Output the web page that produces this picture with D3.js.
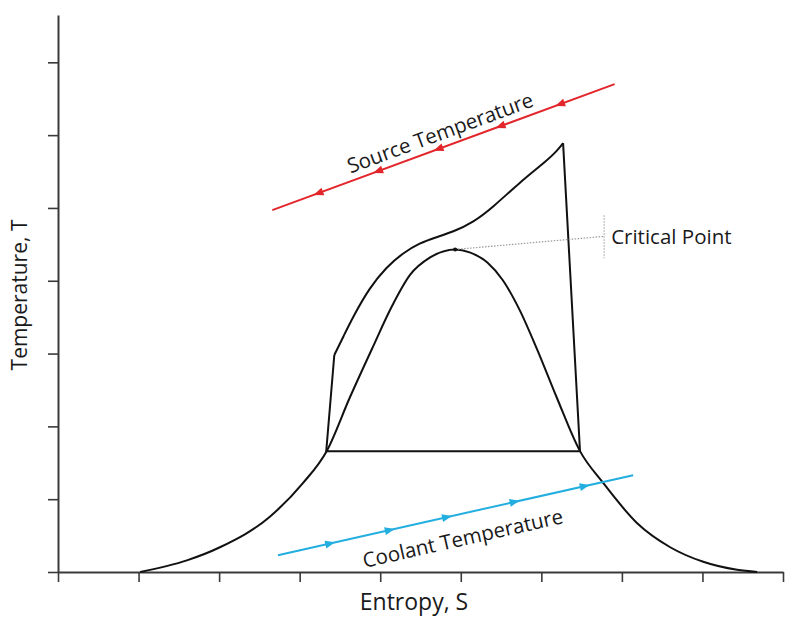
<!DOCTYPE html>
<html>
<head>
<meta charset="utf-8">
<script src="https://cdn.jsdelivr.net/npm/d3@7"></script>
<style>
  body { margin: 0; background: #fff; }
  text { font-family: "Open Sans", "Noto Sans", sans-serif; fill: #1a1a1a; }
</style>
</head>
<body>
<div id="chart"></div>
<script>
var WIDTH = 795, HEIGHT = 617;

// x ticks (entropy) and y ticks (temperature), no labels on them
var xTicks = [0, 1, 2, 3, 4, 5, 6, 7, 8, 9];
var yTicks = [0, 1, 2, 3, 4, 5, 6, 7];

// saturation dome [s, T]
var dome = [[1.02, 0], [1.60, 0.16], [2.01, 0.34], [2.63, 0.76], [3.04, 1.22], [3.34, 1.67],
  [3.62, 2.39], [3.90, 3.07], [4.15, 3.66], [4.37, 4.08], [4.62, 4.32],
  [4.93, 4.43], [5.11, 4.39], [5.33, 4.25], [5.52, 4.01], [5.73, 3.60], [5.95, 3.05],
  [6.19, 2.40], [6.48, 1.66], [6.77, 1.22], [7.19, 0.67], [7.60, 0.34], [8.01, 0.14],
  [8.43, 0.03], [8.68, 0]];

// cycle: curved upper part and straight parts
var cycleTop = [[3.43, 2.98], [3.55, 3.25], [3.66, 3.50], [3.87, 3.91], [4.08, 4.19], [4.28, 4.38],
  [4.49, 4.52], [4.70, 4.60], [4.90, 4.67], [5.15, 4.80], [5.40, 5.01], [5.73, 5.35],
  [6.07, 5.65], [6.20, 5.79], [6.27, 5.89]];
var cycleStraight = [[6.27, 5.89], [6.48, 1.66], [3.33, 1.66], [3.43, 2.98]];

var criticalPoint = [4.93, 4.43];
var criticalLabelAt = [6.78, 4.61];
var criticalTick = [[6.78, 4.90], [6.78, 4.31]];

// heat source / sink lines, arrows at these s positions
var sourceLine = [[2.66, 4.97], [6.91, 6.70]];
var sourceArrows = [3.23, 3.97, 4.72, 5.49, 6.23];
var coolantLine = [[2.73, 0.23], [7.14, 1.33]];
var coolantArrows = [3.38, 4.12, 4.83, 5.67, 6.54];

var SOURCE_COLOR = "#e3262b",
  COOLANT_COLOR = "#23aee0",
  AXIS_COLOR = "#3a3a3a";

var x = d3.scaleLinear().domain([0, 9]).range([58, 783]);
var y = d3.scaleLinear().domain([0, 7.65]).range([572, 15]);

var svg = d3.select("#chart")
  .append("svg")
  .attr("width", WIDTH)
  .attr("height", HEIGHT);

var line = d3.line()
  .x(function(d) { return x(d[0]); })
  .y(function(d) { return y(d[1]); });

// axes
svg.append("g")
  .attr("transform", "translate(0," + y(0) + ")")
  .call(d3.axisBottom(x).tickValues(xTicks).tickSize(10).tickSizeOuter(0).tickFormat(""));
svg.append("g")
  .attr("transform", "translate(" + x(0) + ",0)")
  .call(d3.axisLeft(y).tickValues(yTicks).tickSize(10).tickSizeOuter(0).tickFormat(""));

svg.selectAll(".domain").attr("stroke", AXIS_COLOR).attr("stroke-width", 2);
svg.selectAll(".tick line").attr("stroke", AXIS_COLOR).attr("stroke-width", 1.6);

svg.append("text")
  .attr("transform", "translate(27,295) rotate(-90)")
  .attr("text-anchor", "middle")
  .style("font-size", "21px")
  .text("Temperature, T");

svg.append("text")
  .attr("x", 414)
  .attr("y", 610)
  .attr("text-anchor", "middle")
  .style("font-size", "23px")
  .text("Entropy, S");

// dome and cycle
svg.append("path")
  .datum(dome)
  .attr("d", line.curve(d3.curveMonotoneX))
  .attr("fill", "none")
  .attr("stroke", "#111")
  .attr("stroke-width", 2);

svg.append("path")
  .datum(cycleTop)
  .attr("d", line.curve(d3.curveBasis))
  .attr("fill", "none")
  .attr("stroke", "#111")
  .attr("stroke-width", 2);

svg.append("path")
  .datum(cycleStraight)
  .attr("d", line.curve(d3.curveLinear))
  .attr("fill", "none")
  .attr("stroke", "#111")
  .attr("stroke-width", 2)
  .attr("stroke-linejoin", "round");

// critical point marker
svg.append("path")
  .datum([criticalPoint, criticalLabelAt])
  .attr("d", line)
  .attr("stroke", "#999")
  .attr("stroke-width", 1.2)
  .attr("stroke-dasharray", "1.5,1.5");
svg.append("path")
  .datum(criticalTick)
  .attr("d", line)
  .attr("stroke", "#aaa")
  .attr("stroke-width", 1.2)
  .attr("stroke-dasharray", "1.5,1.5");
svg.append("circle")
  .attr("cx", x(criticalPoint[0]))
  .attr("cy", y(criticalPoint[1]))
  .attr("r", 2)
  .attr("fill", "#111");
svg.append("text")
  .attr("x", x(criticalLabelAt[0]) + 7)
  .attr("y", y(criticalLabelAt[1]) + 8)
  .style("font-size", "20.5px")
  .text("Critical Point");

function drawStream(pts, arrows, color, dir, label, labelOffset) {
  var x0 = x(pts[0][0]), y0 = y(pts[0][1]);
  var x1 = x(pts[1][0]), y1 = y(pts[1][1]);
  var ang = Math.atan2(y1 - y0, x1 - x0) * 180 / Math.PI;
  var slope = (pts[1][1] - pts[0][1]) / (pts[1][0] - pts[0][0]);

  svg.append("path")
    .datum(pts)
    .attr("d", line.curve(d3.curveLinear))
    .attr("stroke", color)
    .attr("stroke-width", 2);

  svg.selectAll(null)
    .data(arrows)
    .enter()
    .append("path")
    .attr("d", dir > 0 ? "M5,0L-5,-4L-5,4Z" : "M-5,0L5,-4L5,4Z")
    .attr("fill", color)
    .attr("transform", function(d) {
      var t = pts[0][1] + (d - pts[0][0]) * slope;
      return "translate(" + x(d) + "," + y(t) + ") rotate(" + ang + ")";
    });

  var mx = (x0 + x1) / 2 + labelOffset[0], my = (y0 + y1) / 2;
  svg.append("text")
    .attr("transform", "translate(" + mx + "," + my + ") rotate(" + ang + ") translate(0," + labelOffset[1] + ")")
    .attr("text-anchor", "middle")
    .style("font-size", "20.5px")
    .text(label);
}

drawStream(sourceLine, sourceArrows, SOURCE_COLOR, -1, "Source Temperature", [2, -8]);
drawStream(coolantLine, coolantArrows, COOLANT_COLOR, 1, "Coolant Temperature", [2, 31]);
</script>
</body>
</html>
